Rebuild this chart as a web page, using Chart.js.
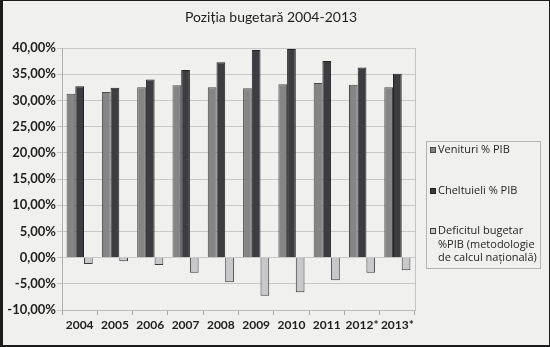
<!DOCTYPE html>
<html>
<head>
<meta charset="utf-8">
<script src="https://cdn.jsdelivr.net/npm/chart.js@4/dist/chart.umd.min.js"></script>
<style>
  html, body { margin: 0; padding: 0; background: #f0f0ef; }
  #wrap { width: 550px; height: 347px; position: relative; }
</style>
</head>
<body>
<div id="wrap"><canvas id="c" width="550" height="347"></canvas></div>
<script>
const chartTitle = 'Poziția bugetară 2004-2013';
const years = ['2004', '2005', '2006', '2007', '2008', '2009', '2010', '2011', '2012*', '2013*'];
const venituri = [31.25, 31.6, 32.5, 32.9, 32.5, 32.3, 33.1, 33.3, 33.0, 32.5];
const cheltuieli = [32.7, 32.4, 34.0, 35.8, 37.3, 39.6, 39.8, 37.5, 36.3, 35.1];
const deficit = [-1.2, -0.7, -1.4, -2.9, -4.7, -7.3, -6.6, -4.3, -2.9, -2.4];
const seriesNames = [
  ['Venituri % PIB'],
  ['Cheltuieli % PIB'],
  ['Deficitul bugetar', '%PIB (metodologie', 'de calcul națională)']
];
const fills = ['#858585', '#3e3c40', '#c8c8ca'];
const edges = ['#4a4a4a', '#222222', '#3a3a3a'];

const frame = {
  id: 'frame',
  beforeDraw(chart) {
    const ctx = chart.ctx;
    ctx.save();
    ctx.fillStyle = '#f0f0ef';
    ctx.fillRect(0, 0, chart.width, chart.height);
    ctx.restore();
  },
  afterDraw(chart) {
    const ctx = chart.ctx;
    const a = chart.chartArea;
    ctx.save();
    // title
    ctx.fillStyle = '#1e1e1e';
    ctx.font = '14px Lato, sans-serif';
    ctx.textAlign = 'center';
    ctx.textBaseline = 'middle';
    ctx.fillText(chartTitle, 271, 17);
    ctx.textAlign = 'left';
    // right wall edge
    ctx.strokeStyle = '#c4c4c4';
    ctx.lineWidth = 1;
    ctx.beginPath();
    ctx.moveTo(Math.round(a.right) + 0.5, a.top);
    ctx.lineTo(Math.round(a.right) + 0.5, a.bottom);
    ctx.stroke();
    // legend box
    const lx = 426, ly = 141, lw = 114, lh = 127;
    ctx.strokeStyle = '#b4b4b4';
    ctx.strokeRect(lx + 0.5, ly + 0.5, lw, lh);
    ctx.font = '11px "Open Sans", sans-serif';
    ctx.textBaseline = 'middle';
    const starts = [150, 191, 231];
    chart.data.datasets.forEach((ds, i) => {
      const y = starts[i];
      ctx.fillStyle = ds.backgroundColor;
      ctx.fillRect(430, y - 3, 6, 6);
      ctx.strokeStyle = ds.borderColor;
      ctx.strokeRect(430.5, y - 2.5, 5, 5);
      ctx.fillStyle = '#1e1e1e';
      ds.label.forEach((line, j) => {
        ctx.fillText(line, 438, y + j * 13.5);
      });
    });
    // outer frame
    ctx.fillStyle = '#1c1c1c';
    ctx.fillRect(0, 0, chart.width, 1);
    ctx.fillRect(0, 0, 3, chart.height);
    ctx.fillRect(0, chart.height - 2, chart.width, 2);
    ctx.fillRect(chart.width - 1, 0, 1, chart.height);
    ctx.restore();
  }
};

new Chart(document.getElementById('c'), {
  type: 'bar',
  data: {
    labels: years,
    datasets: [venituri, cheltuieli, deficit].map((d, i) => ({
      label: seriesNames[i],
      data: d,
      backgroundColor: fills[i],
      borderColor: edges[i],
      borderWidth: 1,
      categoryPercentage: 0.74,
      barPercentage: 1
    }))
  },
  options: {
    responsive: false,
    animation: false,
    layout: { padding: { left: 0, right: 135, top: 48, bottom: 0 } },
    plugins: {
      legend: { display: false },
      tooltip: { enabled: false },
      title: { display: false }
    },
    scales: {
      x: {
        grid: { drawOnChartArea: false, tickLength: 5, color: '#a8a8a8' },
        border: { color: '#b8b8b8' },
        ticks: { color: '#1e1e1e', font: { family: 'Lato', size: 12, weight: 'bold' }, padding: 3, maxRotation: 0, autoSkip: false },
        afterFit(scale) { scale.height = 37; }
      },
      y: {
        min: -10,
        max: 40,
        grid: { color: '#c8c8c8', tickLength: 5 },
        border: { color: '#b0b0b0' },
        ticks: {
          stepSize: 5,
          padding: 1,
          color: '#1e1e1e',
          font: { family: 'Lato', size: 13, weight: 'bold' },
          callback: v => v.toFixed(2).replace('.', ',') + '%'
        },
        afterFit(scale) { scale.width = 62; }
      }
    }
  },
  plugins: [frame]
});
</script>
</body>
</html>
